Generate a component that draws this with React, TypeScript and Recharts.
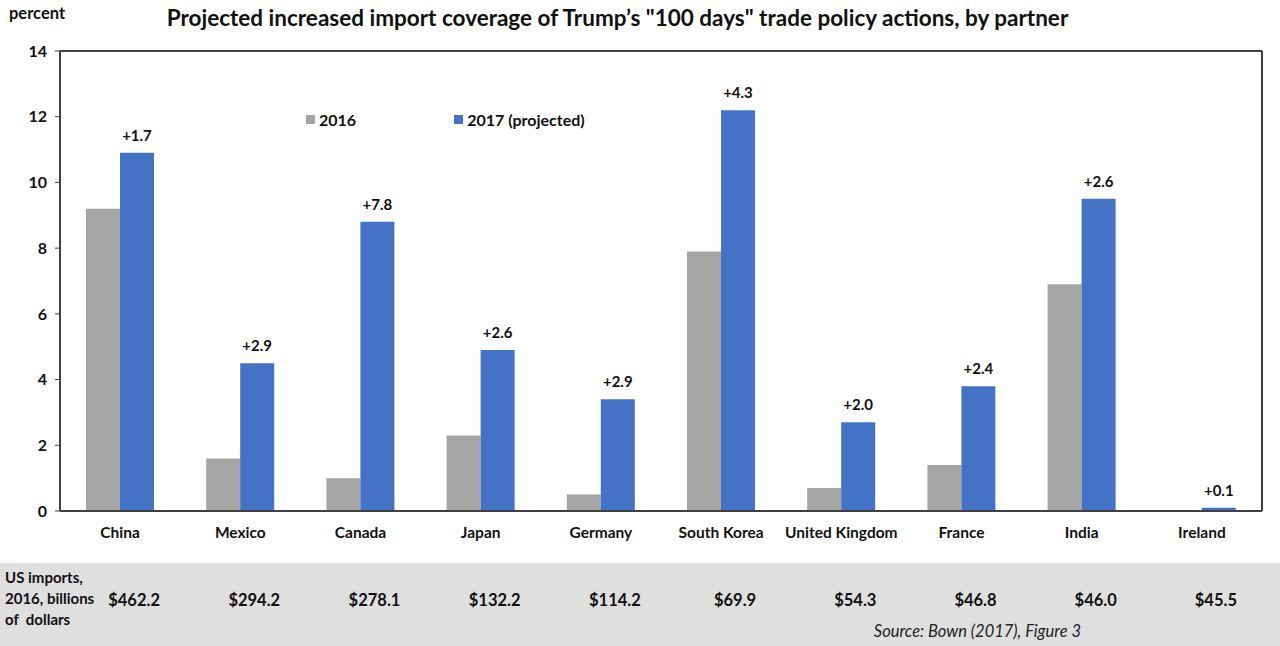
import { BarChart, Bar, XAxis, YAxis, Legend, LabelList, ReferenceLine } from 'recharts';

const partners = ['China', 'Mexico', 'Canada', 'Japan', 'Germany', 'South Korea', 'United Kingdom', 'France', 'India', 'Ireland'];
const coverage2016 = [9.2, 1.6, 1.0, 2.3, 0.5, 7.9, 0.7, 1.4, 6.9, 0];
const coverage2017 = [10.9, 4.5, 8.8, 4.9, 3.4, 12.2, 2.7, 3.8, 9.5, 0.1];
const changeLabels = ['+1.7', '+2.9', '+7.8', '+2.6', '+2.9', '+4.3', '+2.0', '+2.4', '+2.6', '+0.1'];
const importsBn = ['$462.2', '$294.2', '$278.1', '$132.2', '$114.2', '$69.9', '$54.3', '$46.8', '$46.0', '$45.5'];
const yTicks = [0, 2, 4, 6, 8, 10, 12, 14];

const data = partners.map((name, i) => ({
  name,
  y2016: coverage2016[i],
  y2017: coverage2017[i],
  change: changeLabels[i],
  imports: importsBn[i],
}));

const FONT = 'Lato, "Open Sans", sans-serif';
const GREY = '#a5a5a5';
const BLUE = '#4472c4';
const AXIS = '#404040';

function PartnerTick(props: any) {
  const { x, y, payload, index } = props;
  return (
    <g>
      <text x={x} y={y} dy={27} textAnchor="middle" fontFamily={FONT} fontWeight={700} fontSize={15.5} fill="#111">
        {payload.value}
      </text>
      <text x={x} y={y} dx={14} dy={95} textAnchor="middle" fontFamily={FONT} fontWeight={700} fontSize={16.5} fill="#111">
        {importsBn[index]}
      </text>
    </g>
  );
}

function renderLegend() {
  const items = [
    { label: '2016', color: GREY, gap: 98 },
    { label: '2017 (projected)', color: BLUE, gap: 0 },
  ];
  return (
    <div style={{ display: 'flex', fontFamily: FONT, fontWeight: 700, fontSize: 16, color: '#111' }}>
      {items.map((it) => (
        <div key={it.label} style={{ display: 'flex', alignItems: 'center', marginRight: it.gap }}>
          <span style={{ display: 'inline-block', width: 9, height: 9, background: it.color, marginRight: 4 }} />
          {it.label}
        </div>
      ))}
    </div>
  );
}

export default function App() {
  return (
    <div style={{ position: 'absolute', left: 0, top: 0, width: 1280, height: 646, background: '#fff', fontFamily: FONT }}>
      <div style={{ position: 'absolute', left: 0, top: 563, width: 1280, height: 83, background: '#dfdfdf' }} />
      <div style={{ position: 'absolute', left: 5, top: 567, fontWeight: 700, fontSize: 15, lineHeight: '21px', color: '#111' }}>
        US imports,
        <br />
        2016, billions
        <br />
        of&nbsp; dollars
      </div>
      <div style={{ position: 'absolute', left: 0, top: 0, fontWeight: 700, fontSize: 16.5, color: '#111', paddingLeft: 9, paddingTop: 3 }}>
        percent
      </div>
      <div style={{ position: 'absolute', left: 0, top: 4, width: 1235, textAlign: 'center', fontWeight: 700, fontSize: 22.5, color: '#111' }}>
        Projected increased import coverage of Trump’s "100 days" trade policy actions, by partner
      </div>
      <div style={{ position: 'absolute', right: 199, top: 621, fontStyle: 'italic', fontSize: 16.5, color: '#222' }}>
        Source: Bown (2017), Figure 3
      </div>
      <div style={{ position: 'absolute', left: 0, top: 0 }}>
        <BarChart
          width={1280}
          height={646}
          data={data}
          margin={{ top: 51, right: 0, bottom: 0, left: 0 }}
          barCategoryGap={26}
          barGap={0}
        >
          <XAxis
            dataKey="name"
            height={135}
            tickLine={false}
            tickSize={0}
            tickMargin={0}
            axisLine={{ stroke: AXIS, strokeWidth: 2 }}
            tick={<PartnerTick />}
            interval={0}
          />
          <YAxis
            yAxisId="left"
            width={60}
            domain={[0, 14]}
            ticks={yTicks}
            interval={0}
            axisLine={{ stroke: AXIS, strokeWidth: 2 }}
            tickLine={{ stroke: AXIS }}
            tickSize={5}
            tickMargin={8}
            tick={{ fontFamily: FONT, fontWeight: 700, fontSize: 16, fill: '#111' }}
          />
          <YAxis yAxisId="right" orientation="right" width={18} domain={[0, 14]} tick={false} tickLine={false} axisLine={{ stroke: AXIS, strokeWidth: 2 }} />
          <ReferenceLine yAxisId="left" y={14} stroke={AXIS} strokeWidth={2} />
          <Legend
            layout="horizontal"
            verticalAlign="middle"
            align="center"
            content={renderLegend}
            wrapperStyle={{ top: 110, left: 306, width: 'auto', height: 'auto' }}
          />
          <Bar yAxisId="left" dataKey="y2016" name="2016" fill={GREY} isAnimationActive={false} />
          <Bar yAxisId="left" dataKey="y2017" name="2017 (projected)" fill={BLUE} isAnimationActive={false}>
            <LabelList dataKey="change" position="top" offset={12} style={{ fontFamily: FONT, fontWeight: 700, fontSize: 15, fill: '#111' }} />
          </Bar>
        </BarChart>
      </div>
    </div>
  );
}
